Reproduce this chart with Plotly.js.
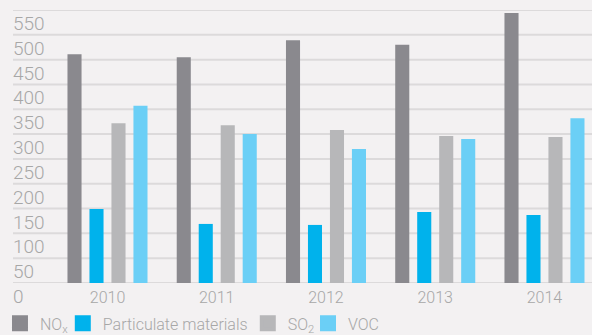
<!DOCTYPE html>
<html>
<head>
<meta charset="utf-8">
<script src="https://cdn.plot.ly/plotly-3.0.1.min.js"></script>
<style>
  html, body { margin: 0; padding: 0; background: #f3f1f2; }
  #chart { width: 592px; height: 335px; }
</style>
</head>
<body>
<div id="chart"></div>
<script>
// Emissions by year (tonnes)
const years = ['2010', '2011', '2012', '2013', '2014'];
const seriesNames = ['NO<sub>x</sub>', 'Particulate materials', 'SO<sub>2</sub>', 'VOC'];
const nox = [461, 455, 489, 480, 544];
const particulates = [149, 119, 117, 143, 137];
const so2 = [322, 318, 308, 296, 294];
const voc = [357, 300, 270, 290, 332];
const yTicks = [0, 50, 100, 150, 200, 250, 300, 350, 400, 450, 500, 550];

const colors = ['#8a898e', '#00b2ec', '#b7b7b9', '#6bcff6'];
const values = [nox, particulates, so2, voc];
// horizontal placement of each legend entry (paper fraction)
const legendX = [-0.0225, 0.086, 0.4055, 0.5095];

const font = { family: 'Roboto, "DejaVu Sans", sans-serif', color: '#a7a7a7', weight: 300 };

const bars = values.map((v, i) => ({
  type: 'bar',
  x: years,
  y: v,
  name: seriesNames[i],
  marker: { color: colors[i] },
  showlegend: false,
  hoverinfo: 'x+y+name'
}));

// twins on a hidden, out-of-range axis pair: they only supply the
// larger legend swatches (the outlined marker makes a 16px square)
const swatches = values.map((v, i) => ({
  type: 'bar',
  x: years,
  y: v,
  name: seriesNames[i],
  xaxis: 'x2',
  yaxis: 'y2',
  legend: i === 0 ? 'legend' : 'legend' + (i + 1),
  marker: { color: colors[i], line: { color: colors[i], width: 4 } },
  hoverinfo: 'skip',
  showlegend: true
}));

const legendBase = {
  orientation: 'h',
  xanchor: 'left',
  y: -0.148,
  yanchor: 'middle',
  font: Object.assign({}, font, { size: 16 }),
  bgcolor: 'rgba(0,0,0,0)'
};

const gridShapes = yTicks.map(t => ({
  type: 'line',
  xref: 'paper', x0: 0, x1: 1,
  yref: 'y', y0: t, y1: t,
  line: { color: '#dcdadb', width: 2 },
  layer: 'below'
}));

const layout = {
  width: 592,
  height: 335,
  paper_bgcolor: '#f3f1f2',
  plot_bgcolor: '#f3f1f2',
  margin: { l: 13, r: 0, t: 10, b: 52, autoexpand: false },
  barmode: 'group',
  bargap: 0.195,
  bargroupgap: 0.36,
  font: font,
  showlegend: true,
  legend: Object.assign({}, legendBase, { x: legendX[0] }),
  legend2: Object.assign({}, legendBase, { x: legendX[1] }),
  legend3: Object.assign({}, legendBase, { x: legendX[2] }),
  legend4: Object.assign({}, legendBase, { x: legendX[3] }),
  shapes: gridShapes,
  xaxis: {
    type: 'category',
    range: [-0.865, 4.435],
    showgrid: false,
    showline: false,
    zeroline: false,
    ticks: '',
    ticklabelstandoff: 3,
    tickfont: Object.assign({}, font, { size: 16 })
  },
  yaxis: {
    range: [0, 550],
    tickvals: yTicks,
    ticktext: yTicks.map(String),
    showgrid: false,
    zeroline: false,
    showline: false,
    ticks: '',
    ticklabelposition: 'inside bottom',
    ticklabeloverflow: 'allow',
    ticklabelstandoff: -3,
    tickfont: Object.assign({}, font, { size: 19 })
  },
  xaxis2: { overlaying: 'x', visible: false, type: 'category', range: [-0.865, 4.435] },
  yaxis2: { overlaying: 'y', visible: false, range: [-20, -10] }
};

Plotly.newPlot('chart', bars.concat(swatches), layout, { displayModeBar: false, staticPlot: true });
</script>
</body>
</html>
